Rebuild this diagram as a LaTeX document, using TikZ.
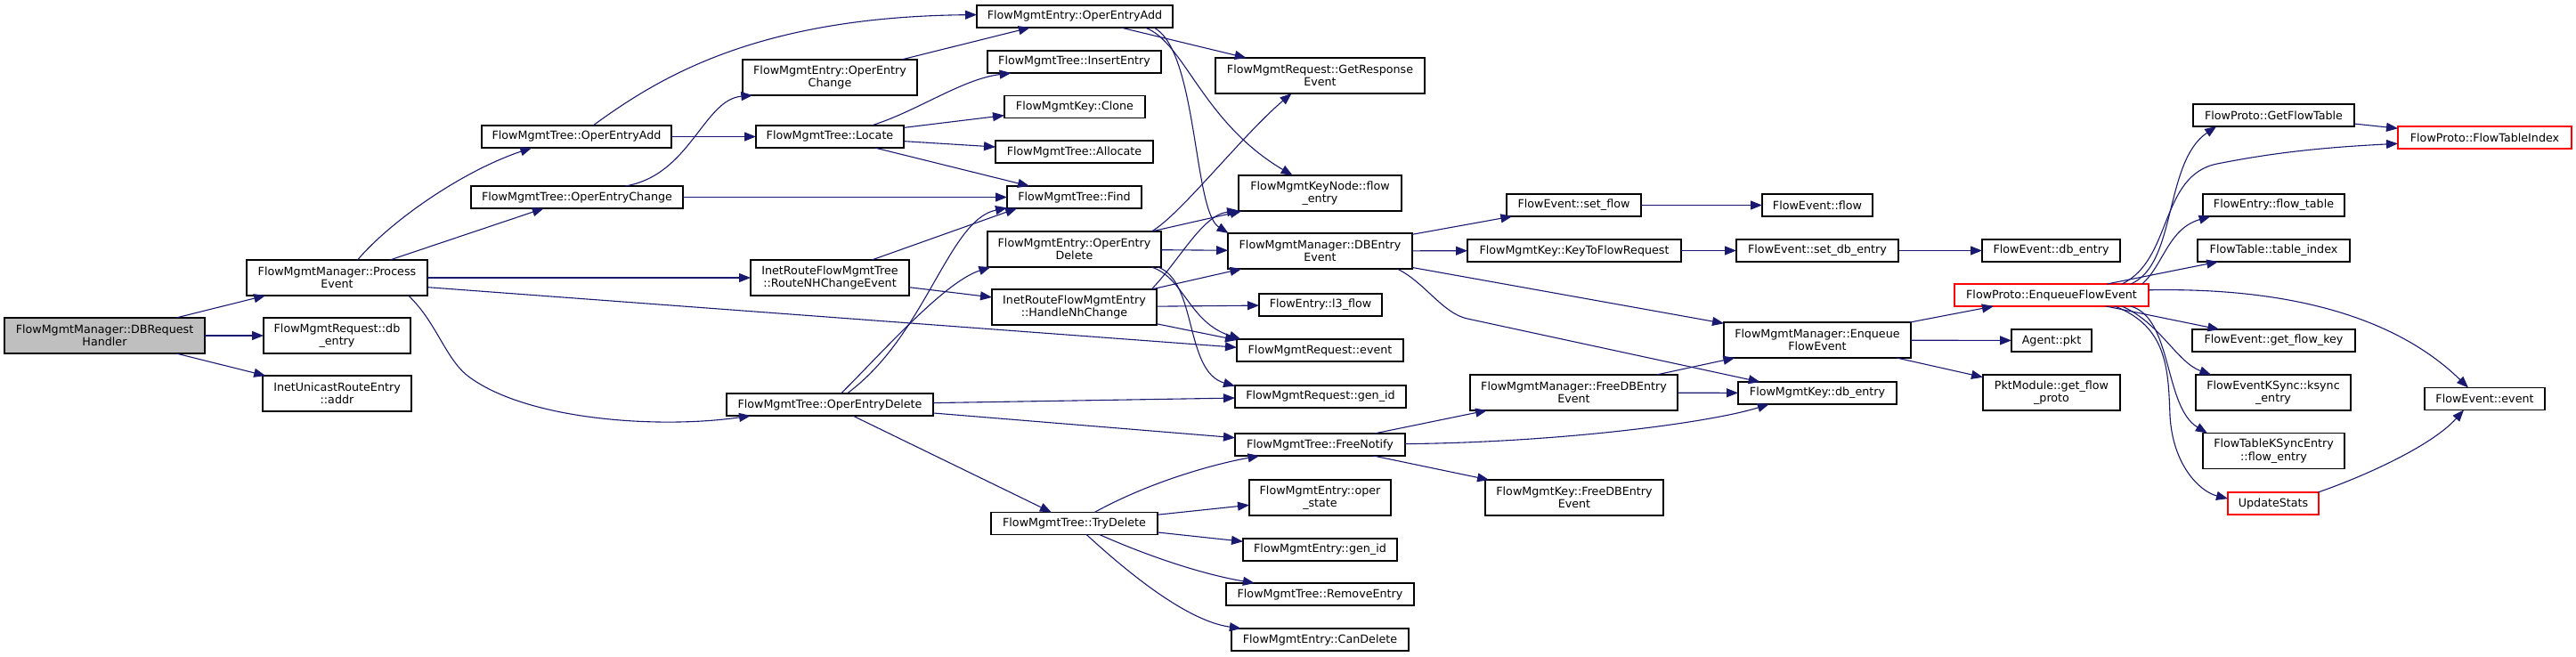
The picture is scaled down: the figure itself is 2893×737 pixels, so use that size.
\documentclass[tikz,border=0pt]{standalone}
\usepackage{fontspec}
\setmainfont{DejaVu Sans}
\usetikzlibrary{arrows.meta}
\definecolor{callblue}{HTML}{191970}
\definecolor{rootgrey}{HTML}{BFBFBF}
\definecolor{truncred}{HTML}{FF0000}
\tikzset{
  % ---- functions ---------------------------------------------------
  fn/.style     = {rectangle, draw=black, line width=1.2pt, fill=white,
                   inner sep=0pt, outer sep=0pt, minimum height=25,
                   align=center, font=\fontsize{12.7pt}{14.5pt}\selectfont},
  fn2/.style    = {fn, minimum height=40},
  root/.style   = {fn2, fill=rootgrey},
  trunc/.style  = {fn, draw=truncred},
  % ---- calls -------------------------------------------------------
  call/.style   = {draw=callblue, line width=1.1pt,
                   -{Triangle[length=13pt,width=10pt]}},
}
\begin{document}
\begin{tikzpicture}[x=1pt,y=1pt]
  \useasboundingbox (0,0) rectangle (2893,737);
  \node[root, minimum width=225] (req) at (117.5,360) {FlowMgmtManager::DBRequest\\Handler};
  \node[fn2, minimum width=203] (procev) at (378.5,425) {FlowMgmtManager::Process\\Event};
  \node[fn2, minimum width=165] (reqdb) at (378.5,360) {FlowMgmtRequest::db\\\_entry};
  \node[fn2, minimum width=167] (addr) at (378.5,295) {InetUnicastRouteEntry\\::addr};
  \node[fn, minimum width=213] (treeadd) at (647.5,583.5) {FlowMgmtTree::OperEntryAdd};
  \node[fn, minimum width=238] (treechg) at (648,515.5) {FlowMgmtTree::OperEntryChange};
  \node[fn, minimum width=232] (treedel) at (932,282.5) {FlowMgmtTree::OperEntryDelete};
  \node[fn2, minimum width=196] (entchg) at (932,650) {FlowMgmtEntry::OperEntry\\Change};
  \node[fn, minimum width=166] (locate) at (932,583.5) {FlowMgmtTree::Locate};
  \node[fn2, minimum width=178] (nhchg) at (932,425) {InetRouteFlowMgmtTree\\::RouteNHChangeEvent};
  \node[fn, minimum width=220] (entadd) at (1207,718.5) {FlowMgmtEntry::OperEntryAdd};
  \node[fn, minimum width=195] (insert) at (1206.5,667.5) {FlowMgmtTree::InsertEntry};
  \node[fn, minimum width=158] (clone) at (1207,617) {FlowMgmtKey::Clone};
  \node[fn, minimum width=177] (alloc) at (1206.5,566.5) {FlowMgmtTree::Allocate};
  \node[fn, minimum width=151] (find) at (1206.5,515.5) {FlowMgmtTree::Find};
  \node[fn2, minimum width=195] (entdel) at (1206.5,457) {FlowMgmtEntry::OperEntry\\Delete};
  \node[fn2, minimum width=185] (handle) at (1206.5,392) {InetRouteFlowMgmtEntry\\::HandleNhChange};
  \node[fn, minimum width=187] (trydel) at (1206.5,149) {FlowMgmtTree::TryDelete};
  \node[fn2, minimum width=235] (getresp) at (1482.5,652) {FlowMgmtRequest::GetResponse\\Event};
  \node[fn2, minimum width=183] (keynode) at (1482.5,520) {FlowMgmtKeyNode::flow\\\_entry};
  \node[fn2, minimum width=207] (dbentry) at (1482.5,455) {FlowMgmtManager::DBEntry\\Event};
  \node[fn, minimum width=138] (l3flow) at (1483,394.5) {FlowEntry::l3\_flow};
  \node[fn, minimum width=187] (reqev) at (1482.5,343.5) {FlowMgmtRequest::event};
  \node[fn, minimum width=192] (reqgen) at (1483,291.5) {FlowMgmtRequest::gen\_id};
  \node[fn, minimum width=191] (freenot) at (1482.5,237.5) {FlowMgmtTree::FreeNotify};
  \node[fn2, minimum width=159] (operst) at (1482.5,178) {FlowMgmtEntry::oper\\\_state};
  \node[fn, minimum width=173] (entgen) at (1482.5,119.5) {FlowMgmtEntry::gen\_id};
  \node[fn, minimum width=211] (remove) at (1482.5,69.5) {FlowMgmtTree::RemoveEntry};
  \node[fn, minimum width=199] (candel) at (1482.5,18.5) {FlowMgmtEntry::CanDelete};
  \node[fn, minimum width=151] (setflow) at (1767.5,506.5) {FlowEvent::set\_flow};
  \node[fn, minimum width=240] (keytoflow) at (1768,455.5) {FlowMgmtKey::KeyToFlowRequest};
  \node[fn2, minimum width=233] (mfreedb) at (1767.5,296) {FlowMgmtManager::FreeDBEntry\\Event};
  \node[fn2, minimum width=200] (kfreedb) at (1768,178) {FlowMgmtKey::FreeDBEntry\\Event};
  \node[fn, minimum width=124] (evflow) at (2041,506.5) {FlowEvent::flow};
  \node[fn, minimum width=182] (setdb) at (2041,455.5) {FlowEvent::set\_db\_entry};
  \node[fn2, minimum width=210] (menq) at (2041,355) {FlowMgmtManager::Enqueue\\FlowEvent};
  \node[fn, minimum width=178] (keydb) at (2041,295.5) {FlowMgmtKey::db\_entry};
  \node[fn, minimum width=155] (evdb) at (2303.5,455.5) {FlowEvent::db\_entry};
  \node[trunc, minimum width=218] (penq) at (2304,405.5) {FlowProto::EnqueueFlowEvent};
  \node[fn, minimum width=90] (pkt) at (2304,354.5) {Agent::pkt};
  \node[fn2, minimum width=154] (getproto) at (2304,296) {PktModule::get\_flow\\\_proto};
  \node[fn, minimum width=181] (gettable) at (2553.5,607.5) {FlowProto::GetFlowTable};
  \node[fn, minimum width=159] (ftable) at (2553.5,506.5) {FlowEntry::flow\_table};
  \node[fn, minimum width=171] (tindex) at (2553.5,455.5) {FlowTable::table\_index};
  \node[fn, minimum width=183] (flowkey) at (2553.5,354.5) {FlowEvent::get\_flow\_key};
  \node[fn2, minimum width=174] (ksync) at (2553,296) {FlowEventKSync::ksync\\\_entry};
  \node[fn2, minimum width=159] (tksync) at (2553.5,230.5) {FlowTableKSyncEntry\\::flow\_entry};
  \node[trunc, minimum width=102] (upstats) at (2553,171.5) {UpdateStats};
  \node[trunc, minimum width=195] (ftindex) at (2790.5,582.5) {FlowProto::FlowTableIndex};
  \node[fn, minimum width=135] (evevent) at (2790.5,289) {FlowEvent::event};
  \draw[call] (req) -- (procev);
  \draw[call] (req) -- (reqdb);
  \draw[call] (req) -- (addr);
  \draw[call] (procev.41) .. controls (440,490) and (520,545) .. (treeadd.194);
  \draw[call] (procev) -- (treechg);
  \draw[call] (procev) -- (nhchg);
  \draw[call] (procev.-6) -- (reqev.178);
  \draw[call] (procev.-14) .. controls (490,375) and (500,335) .. (525,315)
    .. controls (590,265) and (740,255) .. (treedel.188);
  \draw[call] (treeadd.34) .. controls (740,650) and (850,718) .. (entadd.179);
  \draw[call] (treeadd) -- (locate);
  \draw[call] (treechg.13) .. controls (775,540) and (790,625) .. (entchg.193);
  \draw[call] (treechg) -- (find);
  \draw[call] (entchg) -- (entadd);
  \draw[call] (locate.15) .. controls (1030,612) and (1080,648) .. (insert.190);
  \draw[call] (locate) -- (clone);
  \draw[call] (locate) -- (alloc);
  \draw[call] (locate) -- (find);
  \draw[call] (entadd) -- (getresp);
  \draw[call] (entadd.-9) .. controls (1330,690) and (1350,600) .. (keynode.147);
  \draw[call] (entadd.-8) .. controls (1345,680) and (1340,500) .. (dbentry.169);
  \draw[call] (nhchg.23) -- (find.191);
  \draw[call] (nhchg) -- (handle);
  \draw[call] (treedel.33) .. controls (1040,360) and (1065,490) .. (find.189);
  \draw[call] (treedel.45) .. controls (990,340) and (1060,420) .. (entdel.192);
  \draw[call] (treedel) -- (reqgen);
  \draw[call] (treedel) -- (freenot);
  \draw[call] (treedel) -- (trydel);
  \draw[call] (entdel.13) .. controls (1325,495) and (1395,585) .. (getresp.212);
  \draw[call] (entdel.13) -- (keynode);
  \draw[call] (entdel) -- (dbentry);
  \draw[call] (entdel.-13) .. controls (1330,425) and (1335,375) .. (reqev.172);
  \draw[call] (entdel.-12) .. controls (1345,420) and (1330,320) .. (reqgen.173);
  \draw[call] (handle.13) .. controls (1325,445) and (1350,495) .. (keynode.192);
  \draw[call] (handle.13) -- (dbentry);
  \draw[call] (handle) -- (l3flow);
  \draw[call] (handle) -- (reqev.173);
  \draw[call] (dbentry) -- (setflow);
  \draw[call] (dbentry) -- (keytoflow);
  \draw[call] (dbentry) -- (menq);
  \draw[call] (dbentry.-13) .. controls (1600,420) and (1620,385) .. (1648,379) -- (keydb.169);
  \draw[call] (setflow) -- (evflow);
  \draw[call] (keytoflow) -- (setdb);
  \draw[call] (setdb) -- (evdb);
  \draw[call] (menq) -- (penq);
  \draw[call] (menq) -- (pkt);
  \draw[call] (menq) -- (getproto);
  \draw[call] (freenot) -- (mfreedb);
  \draw[call] (freenot) .. controls (1750,240) and (1920,262) .. (keydb.193);
  \draw[call] (freenot) -- (kfreedb);
  \draw[call] (mfreedb) -- (menq);
  \draw[call] (mfreedb) -- (keydb);
  \draw[call] (trydel) .. controls (1290,195) and (1360,215) .. (freenot);
  \draw[call] (trydel) -- (operst);
  \draw[call] (trydel) -- (entgen);
  \draw[call] (trydel) .. controls (1290,112) and (1350,92) .. (remove);
  \draw[call] (trydel) .. controls (1260,100) and (1330,40) .. (candel);
  \draw[call] (penq.8) .. controls (2445,440) and (2430,555) .. (gettable.191);
  \draw[call] (penq.9) .. controls (2440,445) and (2425,540) .. (2490,553)
    .. controls (2560,567) and (2620,572) .. (ftindex.184);
  \draw[call] (penq.7) .. controls (2430,440) and (2435,480) .. (ftable.190);
  \draw[call] (penq) -- (tindex);
  \draw[call] (penq) -- (flowkey);
  \draw[call] (penq.-9) .. controls (2425,375) and (2445,330) .. (ksync.164);
  \draw[call] (penq.-8) .. controls (2440,380) and (2430,280) .. (tksync.165);
  \draw[call] (penq.-10) .. controls (2435,370) and (2435,320) .. (2437,270)
    .. controls (2440,215) and (2470,185) .. (upstats.174);
  \draw[call] (penq.3) .. controls (2610,415) and (2710,362) .. (evevent.146);
  \draw[call] (gettable) -- (ftindex);
  \draw[call] (upstats.14) .. controls (2650,200) and (2730,235) .. (evevent.208);
\end{tikzpicture}
\end{document}
